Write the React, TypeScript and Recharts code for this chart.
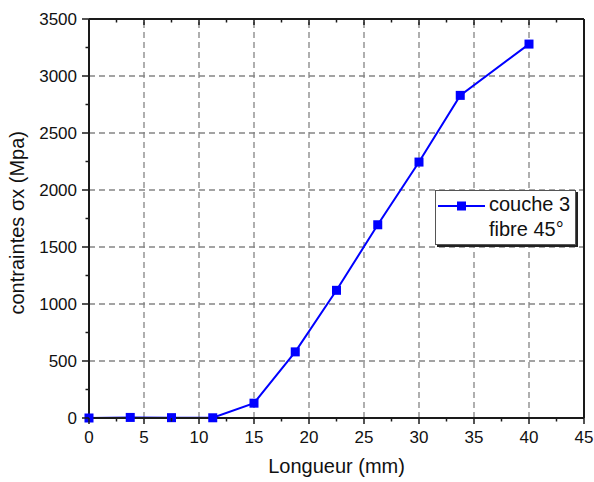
import React from 'react';
import { LineChart, Line, XAxis, YAxis, ReferenceLine } from 'recharts';

const longueur = [0, 3.75, 7.5, 11.25, 15, 18.75, 22.5, 26.25, 30, 33.75, 40];
const contraintes = [0, 5, 3, 2, 130, 580, 1120, 1695, 2245, 2830, 3280];

const xTicks = [0, 2.5, 5, 7.5, 10, 12.5, 15, 17.5, 20, 22.5, 25, 27.5, 30, 32.5, 35, 37.5, 40, 42.5, 45];
const yTicks = [0, 250, 500, 750, 1000, 1250, 1500, 1750, 2000, 2250, 2500, 2750, 3000, 3250, 3500];
const xGrid = [5, 10, 15, 20, 25, 30, 35, 40];
const yGrid = [500, 1000, 1500, 2000, 2500, 3000];

const data = longueur.map((x, i) => ({ x, y: contraintes[i] }));

const AXIS = '#1a1a1a';
const BLUE = '#0000ff';
const FONT = '"Liberation Sans", Arial, sans-serif';

const BottomTick = ({ x, y, payload }: any) => {
    const major = payload.value % 5 === 0;
    return (
        <g>
            <line x1={x} x2={x} y1={y} y2={y + (major ? 6 : 3.5)} stroke={AXIS} strokeWidth={1.5} />
            {major && (
                <text x={x} y={y + 25} textAnchor="middle" fontSize={17} fontFamily={FONT} fill="#111">
                    {payload.value}
                </text>
            )}
        </g>
    );
};

const LeftTick = ({ x, y, payload }: any) => {
    const major = payload.value % 500 === 0;
    return (
        <g>
            <line x1={x - (major ? 7 : 3.5)} x2={x} y1={y} y2={y} stroke={AXIS} strokeWidth={1.5} />
            {major && (
                <text x={x - 12} y={y + 6} textAnchor="end" fontSize={17} fontFamily={FONT} fill="#111">
                    {payload.value}
                </text>
            )}
        </g>
    );
};

const TopTick = ({ x, y, payload }: any) => {
    const major = payload.value % 5 === 0;
    return <line x1={x} x2={x} y1={y} y2={y + (major ? 6 : 3.5)} stroke={AXIS} strokeWidth={1.5} />;
};

const RightTick = ({ x, y, payload }: any) => {
    const major = payload.value % 500 === 0;
    return <line x1={x - (major ? 6 : 3.5)} x2={x} y1={y} y2={y} stroke={AXIS} strokeWidth={1.5} />;
};

// legend drawn as an overlay so it does not eat chart height
const LegendBox = () => (
    <div
        style={{
            position: 'absolute',
            left: 435,
            top: 190,
            width: 141,
            height: 55,
            border: '1.5px solid #555',
            boxShadow: '2px 2px 0 #222',
            background: '#fff',
            fontFamily: FONT,
            fontSize: 20,
            color: '#111',
            boxSizing: 'border-box',
        }}
    >
        <svg width={50} height={20} style={{ position: 'absolute', left: 2, top: 5 }}>
            <line x1={0} x2={47} y1={10} y2={10} stroke={BLUE} strokeWidth={2} />
            <rect x={19} y={5.5} width={9} height={9} fill={BLUE} />
        </svg>
        <div style={{ position: 'absolute', left: 53, top: 1, lineHeight: '25px', whiteSpace: 'nowrap' }}>
            couche 3
            <br />
            fibre 45°
        </div>
    </div>
);

const Square = (props: any) => {
    const { cx, cy } = props;
    return <rect x={cx - 4.5} y={cy - 4.5} width={9} height={9} fill={BLUE} />;
};

export default function App() {
    return (
        <div style={{ position: 'absolute', left: 0, top: 0, width: 594, height: 482, background: '#fff' }}>
            <LineChart width={594} height={482} data={data} margin={{ top: 19, right: 10, left: 0, bottom: 0 }}>
                {xGrid.map(v => (
                    <ReferenceLine key={'gx' + v} x={v} stroke="#858585" strokeDasharray="6 4" strokeWidth={1.3} />
                ))}
                {yGrid.map(v => (
                    <ReferenceLine key={'gy' + v} y={v} stroke="#858585" strokeDasharray="6 4" strokeWidth={1.3} />
                ))}
                <XAxis
                    dataKey="x"
                    type="number"
                    domain={[0, 45]}
                    ticks={xTicks}
                    interval={0}
                    height={64}
                    tickSize={0}
                    tickMargin={0}
                    tickLine={false}
                    tick={<BottomTick />}
                    axisLine={{ stroke: AXIS, strokeWidth: 2 }}
                    label={{
                        value: 'Longueur (mm)',
                        position: 'insideBottom',
                        offset: 9,
                        fontSize: 20,
                        fontFamily: FONT,
                        fill: '#111',
                    }}
                />
                <XAxis
                    xAxisId="top"
                    dataKey="x"
                    type="number"
                    orientation="top"
                    mirror
                    domain={[0, 45]}
                    ticks={xTicks}
                    interval={0}
                    tickSize={0}
                    tickMargin={0}
                    tickLine={false}
                    tick={<TopTick />}
                    axisLine={{ stroke: AXIS, strokeWidth: 2 }}
                />
                <YAxis
                    type="number"
                    domain={[0, 3500]}
                    ticks={yTicks}
                    interval={0}
                    width={89}
                    tickSize={0}
                    tickMargin={0}
                    tickLine={false}
                    tick={<LeftTick />}
                    axisLine={{ stroke: AXIS, strokeWidth: 2 }}
                    label={{
                        value: 'contraintes σx (Mpa)',
                        angle: -90,
                        position: 'insideLeft',
                        offset: 17,
                        dy: 96,
                        fontSize: 20,
                        fontFamily: FONT,
                        fill: '#111',
                    }}
                />
                <YAxis
                    yAxisId="right"
                    type="number"
                    orientation="right"
                    mirror
                    domain={[0, 3500]}
                    ticks={yTicks}
                    interval={0}
                    tickSize={0}
                    tickMargin={0}
                    tickLine={false}
                    tick={<RightTick />}
                    axisLine={{ stroke: AXIS, strokeWidth: 2 }}
                />
                <Line
                    dataKey="y"
                    name="couche 3 fibre 45°"
                    stroke={BLUE}
                    strokeWidth={2}
                    dot={<Square />}
                    isAnimationActive={false}
                />
            </LineChart>
            <LegendBox />
        </div>
    );
}
